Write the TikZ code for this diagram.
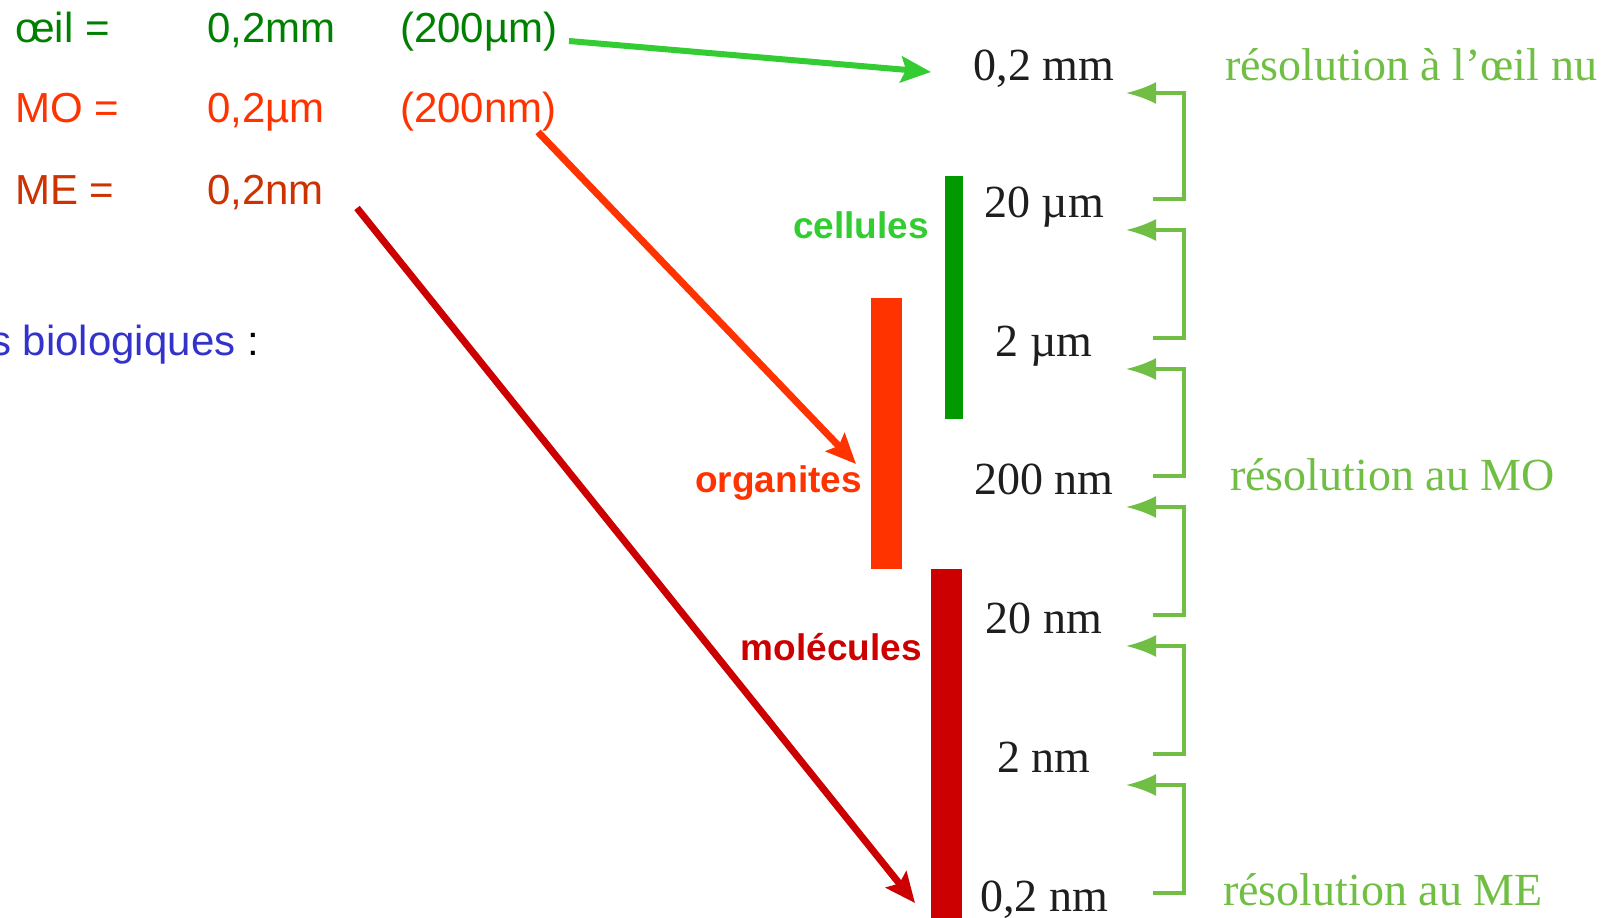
\documentclass[tikz,border=0pt]{standalone}
\usepackage{fontspec}
\setmainfont{Liberation Sans}
\newfontfamily\serifLS{Liberation Serif}
\usetikzlibrary{arrows.meta,calc}
\definecolor{eyegreen}{HTML}{008000}
\definecolor{brightgreen}{HTML}{33CC33}
\definecolor{moorange}{HTML}{FF3300}
\definecolor{mered}{HTML}{CC3300}
\definecolor{darkred}{HTML}{CC0000}
\definecolor{cellgreen}{HTML}{009900}
\definecolor{resgreen}{HTML}{70BF44}
\definecolor{bioblue}{HTML}{3333CC}
\definecolor{scalegray}{HTML}{1E1E1E}
\begin{document}
\begin{tikzpicture}[x=1pt,y=-1pt,
  lt/.style={inner sep=0pt, anchor=base west, font=\fontsize{42}{50}\selectfont},
  bl/.style={inner sep=0pt, anchor=base east, font=\fontsize{37}{44}\selectfont\bfseries},
  sc/.style={inner sep=0pt, anchor=base, text=scalegray, font=\serifLS\fontsize{46}{54}\selectfont},
  rs/.style={inner sep=0pt, anchor=base west, text=resgreen, font=\serifLS\fontsize{46}{54}\selectfont},
  brk/.style={draw=resgreen, line width=3.2pt, -{Latex[length=30pt,width=22pt]}},
  bigarrow/.style={-{Stealth[length=30pt,width=26pt,inset=5pt]}}]
\useasboundingbox (0,0) rectangle (1614,918);
\fill[white] (0,0) rectangle (1614,918);

% left texts
\node[lt, text=eyegreen] (eye) at (15,42) {œil =};
\node[lt, text=eyegreen] (eyemm) at (207,42) {0,2mm};
\node[lt, text=eyegreen] (eyeum) at (400,42) {(200µm)};
\node[lt, text=moorange] (mo) at (15,122) {MO =};
\node[lt, text=moorange] (moum) at (207,122) {0,2µm};
\node[lt, text=moorange] (monm) at (400,122) {(200nm)};
\node[lt, text=mered] (me) at (15,204) {ME =};
\node[lt, text=mered] (menm) at (207,204) {0,2nm};
\node[lt, anchor=base east] (bio) at (259,355) {\textcolor{bioblue}{s biologiques} :};

% bars
\fill[cellgreen] (945,176) rectangle (963,419);
\fill[moorange] (871,298) rectangle (902,569);
\fill[darkred] (931,569) rectangle (962,918);

% bold labels
\node[bl, text=brightgreen] (cell) at (929,238) {cellules};
\node[bl, text=moorange] (orga) at (862,492) {organites};
\node[bl, text=darkred] (mole) at (922,660) {molécules};

% scale labels
\node[sc] (s1) at (1044,80) {0,2 mm};
\node[sc] (s2) at (1044,217) {20 µm};
\node[sc] (s3) at (1044,356) {2 µm};
\node[sc] (s4) at (1044,494) {200 nm};
\node[sc] (s5) at (1044,633) {20 nm};
\node[sc] (s6) at (1044,772) {2 nm};
\node[sc] (s7) at (1044,911) {0,2 nm};

% resolution labels
\node[rs] (r1) at (1225,80) {résolution à l’œil nu};
\node[rs] (r2) at (1230,490) {résolution au MO};
\node[rs] (r3) at (1223,905) {résolution au ME};

% brackets
\foreach \a/\b in {s1/s2,s2/s3,s3/s4,s4/s5,s5/s6,s6/s7}{
  \draw[brk] ($(\b.base)+(109,-18)$) -| ($(\a.base)+(140,13)$) -- ($(\a.base)+(82,13)$);
}

% main arrows
\coordinate (ga) at (569,41);
\coordinate (gb) at (931,72);
\coordinate (oa) at (538,132);
\coordinate (ob) at (856,464);
\coordinate (ra) at (357,208);
\coordinate (rb) at (915,903);
\draw[bigarrow, draw=brightgreen, line width=6pt] (ga) -- (gb);
\draw[bigarrow, draw=moorange, line width=7pt] (oa) -- (ob);
\draw[bigarrow, draw=darkred, line width=7pt] (ra) -- (rb);
\end{tikzpicture}
\end{document}
